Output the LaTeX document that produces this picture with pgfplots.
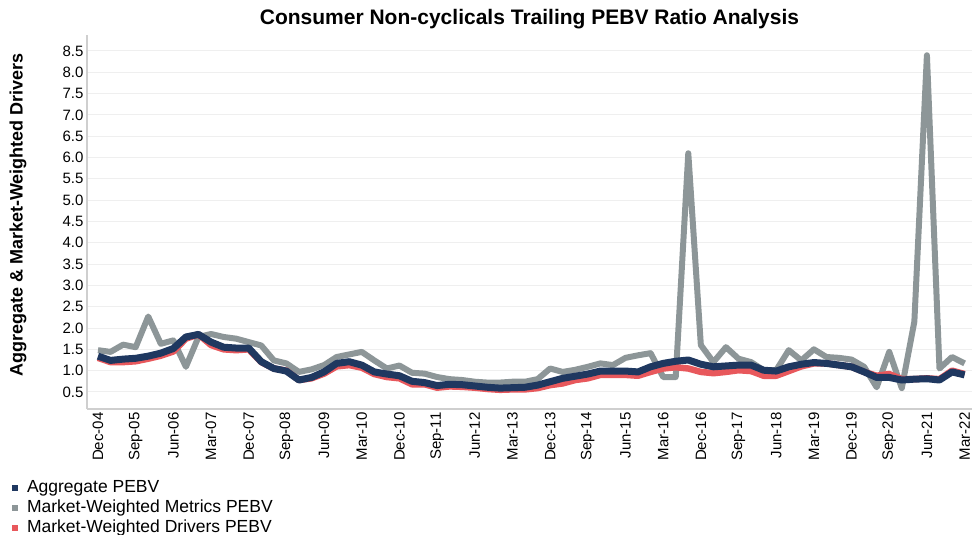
\documentclass[border=0pt]{standalone}
\usepackage{fontspec}
\setmainfont{Liberation Sans}
\usepackage{pgfplots}
\usepackage{pgfplotstable}
\pgfplotsset{compat=1.18}
\definecolor{navy}{HTML}{1F3860}
\definecolor{metgray}{HTML}{8D9698}
\definecolor{drvred}{HTML}{E8585C}
\definecolor{gridc}{HTML}{EFEFEF}
\definecolor{axc}{HTML}{CFCFCF}

\pgfplotstableread{
i agg met drv
0 1.34 1.48 1.30
1 1.24 1.44 1.20
2 1.27 1.61 1.20
3 1.29 1.55 1.22
4 1.34 2.27 1.28
5 1.41 1.63 1.35
6 1.52 1.71 1.45
7 1.79 1.09 1.75
8 1.85 1.79 1.85
9 1.67 1.86 1.60
10 1.55 1.79 1.50
11 1.53 1.75 1.48
12 1.53 1.67 1.50
13 1.21 1.59 1.20
14 1.05 1.24 1.05
15 0.99 1.17 1.00
16 0.78 0.97 0.78
17 0.84 1.03 0.82
18 0.97 1.13 0.93
19 1.17 1.32 1.10
20 1.21 1.38 1.13
21 1.13 1.44 1.07
22 0.97 1.24 0.92
23 0.92 1.05 0.85
24 0.88 1.12 0.82
25 0.75 0.95 0.68
26 0.72 0.93 0.68
27 0.65 0.85 0.60
28 0.68 0.80 0.63
29 0.67 0.78 0.62
30 0.64 0.74 0.60
31 0.61 0.72 0.57
32 0.59 0.72 0.55
33 0.60 0.74 0.56
34 0.61 0.74 0.56
35 0.66 0.80 0.59
36 0.74 1.05 0.66
37 0.82 0.97 0.70
38 0.87 1.02 0.78
39 0.92 1.09 0.82
40 0.99 1.17 0.90
41 0.99 1.13 0.90
42 0.99 1.30 0.90
43 0.97 1.36 0.88
44 1.09 1.41 0.97
45 1.17 0.85 1.05
46 1.22 0.85 1.08
47 1.25 6.10 1.05
48 1.15 1.60 0.97
49 1.09 1.20 0.94
50 1.11 1.55 0.97
51 1.13 1.28 1.01
52 1.13 1.20 0.99
53 1.01 1.01 0.88
54 0.99 1.01 0.88
55 1.09 1.48 0.99
56 1.15 1.24 1.10
57 1.19 1.50 1.17
58 1.17 1.32 1.17
59 1.13 1.30 1.13
60 1.09 1.26 1.09
61 0.97 1.09 0.97
62 0.84 0.61 0.88
63 0.84 1.44 0.92
64 0.78 0.59 0.80
65 0.80 2.15 0.80
66 0.81 8.40 0.82
67 0.78 1.05 0.80
68 0.97 1.32 1.00
69 0.90 1.17 0.92
}\data

\begin{document}
\begin{tikzpicture}
\begin{axis}[
  scale only axis, width=885pt, height=374pt,
  xmin=-0.876, xmax=69.59, ymin=0.1, ymax=8.875,
  axis lines*=left,
  axis line style={axc, line width=1.5pt},
  xtick={0,3,...,69},
  xticklabels={Dec-04,Sep-05,Jun-06,Mar-07,Dec-07,Sep-08,Jun-09,Mar-10,Dec-10,Sep-11,Jun-12,Mar-13,Dec-13,Sep-14,Jun-15,Mar-16,Dec-16,Sep-17,Jun-18,Mar-19,Dec-19,Sep-20,Jun-21,Mar-22},
  ytick={0.5,1.0,1.5,2.0,2.5,3.0,3.5,4.0,4.5,5.0,5.5,6.0,6.5,7.0,7.5,8.0,8.5},
  major tick length=0pt,
  ymajorgrids, grid style={gridc, line width=1pt},
  tick label style={font=\fontsize{15}{17}\selectfont, black},
  yticklabel style={/pgf/number format/.cd, fixed, fixed zerofill, precision=1, assume math mode=true},
  xticklabel style={rotate=90, anchor=east},
  title={Consumer Non-cyclicals Trailing PEBV Ratio Analysis},
  title style={at={(axis description cs:0.5,1.027)}, anchor=center, yshift=0pt, font=\bfseries\fontsize{21}{23}\selectfont},
  ylabel={Aggregate \& Market-Weighted Drivers},
  ylabel style={at={(axis description cs:-0.078,0.519)}, anchor=center, font=\bfseries\fontsize{18}{20}\selectfont},
  legend style={at={(axis description cs:-0.0847,-0.187)}, anchor=north west, draw=none, fill=none,
    inner sep=0pt, outer sep=0pt, font=\fontsize{17.5}{19}\selectfont, row sep=1pt,
    nodes={inner sep=1pt, text height=13pt, text depth=4pt}},
  legend cell align=left,
  legend image code/.code={\path[draw=none] (0pt,0pt) -- (14pt,0pt); \fill[#1, draw=none] (0pt,-3pt) rectangle (6pt,3pt);},
]
\addplot[color=metgray, line width=6pt, line join=round, forget plot] table[x=i, y=met] {\data};
\addplot[color=drvred, line width=6.5pt, line join=round, forget plot] table[x=i, y=drv] {\data};
\addplot[color=navy, line width=7pt, line join=round] table[x=i, y=agg] {\data};
\addlegendentry{Aggregate PEBV}
\addlegendimage{color=metgray}
\addlegendentry{Market-Weighted Metrics PEBV}
\addlegendimage{color=drvred}
\addlegendentry{Market-Weighted Drivers PEBV}
\end{axis}
\pgfresetboundingbox
\path (current axis.south west) +(-87pt,-126pt) rectangle +(885pt,409pt);
\end{tikzpicture}
\end{document}
